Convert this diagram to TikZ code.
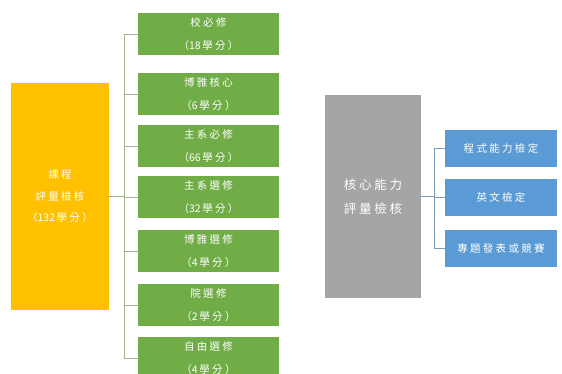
\documentclass[tikz,border=0pt]{standalone}
\usepackage{fontspec}
\newfontfamily\cjk[LetterSpace=22]{Noto Sans CJK TC}
\newfontfamily\cjkn{Noto Sans CJK TC}
\newcommand{\nm}[1]{{\cjkn #1}\hspace{0.15em}}
\definecolor{corange}{HTML}{FFC000}
\definecolor{cgreen}{HTML}{70AD47}
\definecolor{cgray}{HTML}{A5A5A5}
\definecolor{cblue}{HTML}{5B9BD5}
\definecolor{lgreen}{HTML}{A3B38F}
\definecolor{lblue}{HTML}{7E9BB5}
\tikzset{
  box/.style={draw=none, text=white, align=center, inner sep=0pt, font=\cjk\fontsize{10.5}{22.5}\selectfont},
  obox/.style={box, fill=corange, minimum width=98pt, minimum height=227pt, font=\cjk\fontsize{10.5}{21.5}\selectfont},
  gbox/.style={box, fill=cgreen, minimum width=141pt, minimum height=42pt},
  graybox/.style={box, fill=cgray, minimum width=96pt, minimum height=203pt, font=\cjk\fontsize{12.5}{24}\selectfont},
  bbox/.style={box, fill=cblue, minimum width=112pt, minimum height=37pt},
  gline/.style={draw=lgreen, line width=0.9pt},
  bline/.style={draw=lblue, line width=0.9pt},
}
\begin{document}
\begin{tikzpicture}[x=1pt, y=-1pt]
\useasboundingbox (0,0) rectangle (562,374);
\clip (0,0) rectangle (562,374);
\fill[white] (0,0) rectangle (562,374);
% left group
\node[obox] (o) at (60,196.5) {課程\\評量檢核\\（\nm{132}學分）};
\node[gbox] (g1) at (208.5,34) {校必修\\（\nm{18}學分）};
\node[gbox] (g2) at (208.5,94) {博雅核心\\（\nm{6}學分）};
\node[gbox] (g3) at (208.5,146) {主系必修\\（\nm{66}學分）};
\node[gbox] (g4) at (208.5,197) {主系選修\\（\nm{32}學分）};
\node[gbox] (g5) at (208.5,251) {博雅選修\\（\nm{4}學分）};
\node[gbox] (g6) at (208.5,305) {院選修\\（\nm{2}學分）};
\node[gbox] (g7) at (208.5,358) {自由選修\\（\nm{4}學分）};
\coordinate (tg) at (124,196.5);
\draw[gline] (g1.west) -- (g1.west -| tg) -- (g7.west -| tg) -- (g7.west);
\foreach \i in {2,...,6}{\draw[gline] (g\i.west) -- (g\i.west -| tg);}
\draw[gline] (o.east) -- (o.east -| tg);
% right group
\node[graybox] (c) at (373,196.5) {核心能力\\評量檢核};
\node[bbox] (b1) at (501,148.5) {程式能力檢定};
\node[bbox] (b2) at (501,197.5) {英文檢定};
\node[bbox] (b3) at (501,248.5) {專題發表或競賽};
\coordinate (tb) at (434,197);
\draw[bline] (b1.west) -- (b1.west -| tb) -- (b3.west -| tb) -- (b3.west);
\draw[bline] (b2.west) -- (b2.west -| tb);
\draw[bline] (c.east) -- (c.east -| tb);
\end{tikzpicture}
\end{document}
